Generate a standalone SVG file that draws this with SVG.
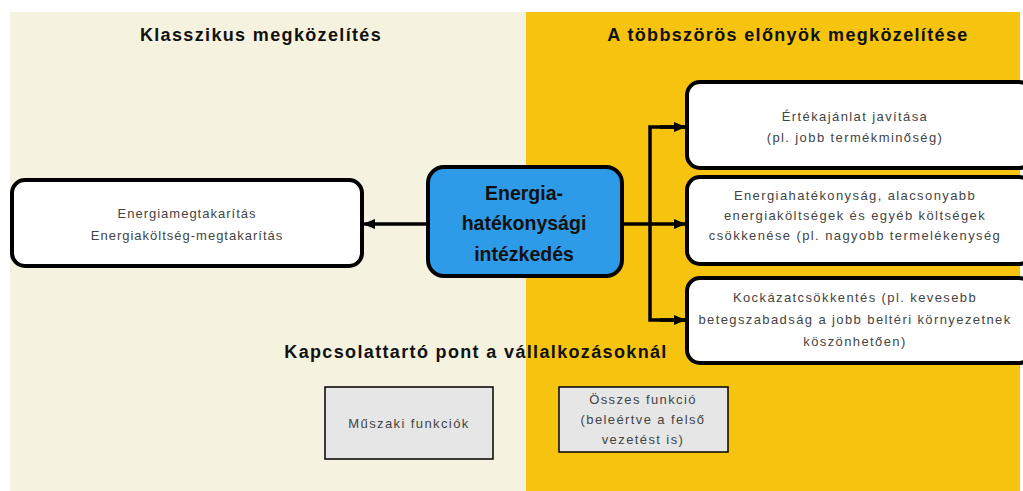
<svg xmlns="http://www.w3.org/2000/svg" width="1023" height="491" viewBox="0 0 1023 491">
<style>
.title{font-family:"Liberation Sans",Arial,sans-serif;font-weight:bold;font-size:18px;letter-spacing:1.35px;fill:#111;text-anchor:middle}
.sm{font-family:"Liberation Sans",Arial,sans-serif;font-size:13px;letter-spacing:1.4px;fill:#444;text-anchor:middle}
.sl{letter-spacing:1px}
.big{font-family:"Liberation Sans",Arial,sans-serif;font-weight:bold;font-size:19.5px;fill:#111;text-anchor:middle}
.box{fill:#fff;stroke:#000;stroke-width:4}
.gbox{fill:#e6e6e6;stroke:#000;stroke-width:1.5}
.conn{fill:none;stroke:#000;stroke-width:3.5}
</style>
<defs>
<marker id="ah" markerWidth="12" markerHeight="10" refX="11" refY="5" orient="auto" markerUnits="userSpaceOnUse">
<path d="M0,0 L12,5 L0,10 Z" fill="#000"/>
</marker>
</defs>
<rect x="0" y="0" width="1023" height="491" fill="#fff"/>
<rect x="10" y="12" width="516" height="479" fill="#f5f3e0"/>
<rect x="526" y="12" width="494" height="479" fill="#f6c40f"/>
<text class="title" x="261" y="41">Klasszikus  megközelítés</text>
<text class="title" x="788" y="41">A többszörös előnyök megközelítése</text>
<g id="connectors">
<line class="conn" x1="428" y1="224" x2="364" y2="224" marker-end="url(#ah)"/>
<line class="conn" x1="622" y1="224" x2="685" y2="224" marker-end="url(#ah)"/>
<polyline class="conn" points="685,127 650,127 650,320 685,320"/>
<line class="conn" x1="660" y1="127" x2="685" y2="127" marker-end="url(#ah)"/>
<line class="conn" x1="660" y1="320" x2="685" y2="320" marker-end="url(#ah)"/>
</g>
<g id="node-energiamegtakaritas">
<rect class="box" x="12" y="180" width="350" height="86" rx="13"/>
<text class="sm sl" x="187" y="218">Energiamegtakarítás</text>
<text class="sm sl" x="187" y="240">Energiaköltség-megtakarítás</text>
</g>
<g id="node-intezkedes">
<rect x="428" y="167" width="194" height="109" rx="16" fill="#2e9be8" stroke="#000" stroke-width="4"/>
<text class="big" x="524" y="200">Energia-</text>
<text class="big" x="524" y="230">hatékonysági</text>
<text class="big" x="524" y="261">intézkedés</text>
</g>
<g id="node-ertekajanlat">
<rect class="box" x="687" y="82" width="345" height="86" rx="13"/>
<text class="sm" x="855" y="121">Értékajánlat  javítása</text>
<text class="sm" x="855" y="142">(pl. jobb termékminőség)</text>
</g>
<g id="node-energiahatekonysag">
<rect class="box" x="687" y="177" width="345" height="87" rx="13"/>
<text class="sm" x="855" y="200">Energiahatékonyság,  alacsonyabb</text>
<text class="sm" x="855" y="220">energiaköltségek és egyéb költségek</text>
<text class="sm" x="855" y="240">csökkenése (pl. nagyobb termelékenység</text>
</g>
<g id="node-kockazat">
<rect class="box" x="687" y="278" width="345" height="85" rx="13"/>
<text class="sm" x="855" y="302">Kockázatcsökkentés (pl. kevesebb</text>
<text class="sm" x="855" y="324">betegszabadság a jobb beltéri környezetnek</text>
<text class="sm" x="855" y="346">köszönhetően)</text>
</g>
<text class="title" x="476" y="358">Kapcsolattartó  pont a vállalkozásoknál</text>
<g id="node-muszaki">
<rect class="gbox" x="325" y="387" width="168" height="72"/>
<text class="sm" x="409" y="428">Műszaki funkciók</text>
</g>
<g id="node-osszes">
<rect class="gbox" x="559" y="387" width="169" height="65"/>
<text class="sm" x="643" y="404">Összes funkció</text>
<text class="sm" x="643" y="424">(beleértve a felső</text>
<text class="sm" x="643" y="444">vezetést is)</text>
</g>
</svg>
